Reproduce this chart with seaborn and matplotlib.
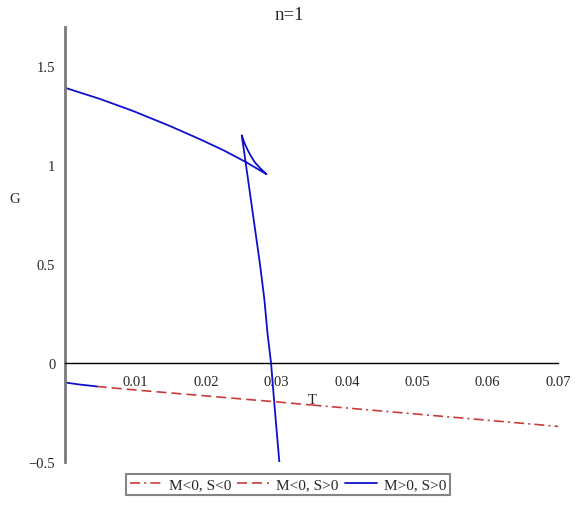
import numpy as np
import pandas as pd
import matplotlib
matplotlib.use("Agg")
import matplotlib.pyplot as plt
import seaborn as sns

# values
# blue branch M>0, S>0 (upper curve -> swallowtail -> steep lower curve)
t_pos = [0.0, 0.005, 0.0097, 0.015, 0.0192, 0.0225, 0.0258, 0.0286,
         0.0278, 0.02697, 0.0264, 0.02588, 0.02545, 0.02509,
         0.0259, 0.02674, 0.02768, 0.0283, 0.02875, 0.02925, 0.0298, 0.03043]
g_pos = [1.392, 1.335, 1.274, 1.197, 1.131, 1.076, 1.014, 0.955,
         0.982, 1.014, 1.046, 1.081, 1.115, 1.152,
         0.95, 0.737, 0.50, 0.323, 0.15, 0.0, -0.24, -0.5]

# short blue piece on the lower branch
t_pos_low = [0.0, 0.002, 0.0045]
g_pos_low = [-0.098, -0.108, -0.118]

# red dashed M<0, S>0
t_neg_pos = [0.0045, 0.01, 0.02, 0.03, 0.035]
g_neg_pos = [-0.118, -0.136, -0.166, -0.196, -0.212]

# red dash-dot M<0, S<0
t_neg_neg = [0.035, 0.04, 0.05, 0.06, 0.07]
g_neg_neg = [-0.212, -0.227, -0.258, -0.289, -0.320]

x_ticks = [0.01, 0.02, 0.03, 0.04, 0.05, 0.06, 0.07]
x_labels = ["0.01", "0.02", "0.03", "0.04", "0.05", "0.06", "0.07"]
y_ticks = [-0.5, 0, 0.5, 1, 1.5]
y_labels = ["\u22120.5", "0", "0.5", "1", "1.5"]

red = "#C83C3C"
blue = "#1010CC"

sns.set_style("white")
plt.rcParams["font.family"] = ["Liberation Serif", "DejaVu Serif"]
plt.rcParams["font.size"] = 10.5

fig = plt.figure(figsize=(5.78, 5.06), dpi=100)
ax = fig.add_axes([0.1125, 0.085, 0.853, 0.860])

dd = (0, (6, 2.5, 1.2, 2.5))
da = (0, (6, 3))

sns.lineplot(x=t_neg_neg, y=g_neg_neg, ax=ax, color=red, lw=1.2,
             linestyle=dd, sort=False, estimator=None, label="M<0, S<0")
sns.lineplot(x=t_neg_pos, y=g_neg_pos, ax=ax, color=red, lw=1.2,
             linestyle=da, sort=False, estimator=None, label="M<0, S>0")
sns.lineplot(x=t_pos, y=g_pos, ax=ax, color=blue, lw=1.3,
             sort=False, estimator=None, label="M>0, S>0")
sns.lineplot(x=t_pos_low, y=g_pos_low, ax=ax, color=blue, lw=1.3,
             sort=False, estimator=None)

ax.set_xlim(0, 0.07)
ax.set_ylim(-0.5, 1.7)

# Maple style axes: x axis through zero, grey y axis on the left
ax.spines["top"].set_visible(False)
ax.spines["right"].set_visible(False)
ax.spines["bottom"].set_position(("data", 0))
ax.spines["bottom"].set_color("black")
ax.spines["bottom"].set_linewidth(1.0)
ax.spines["left"].set_color("#7a7a7a")
ax.spines["left"].set_linewidth(2.0)

ax.set_xticks(x_ticks)
ax.set_xticklabels(x_labels)
ax.set_xticks(np.arange(0.005, 0.07, 0.01), minor=True)
ax.set_yticks(y_ticks)
ax.set_yticklabels(y_labels)
ax.set_yticks(np.arange(-0.4, 1.7, 0.1), minor=True)
ax.tick_params(axis="x", which="major", direction="in", length=4, color="#999999", pad=8.5)
ax.tick_params(axis="x", which="minor", direction="in", length=3, color="#bbbbbb")
ax.tick_params(axis="y", which="major", direction="out", length=4, color="#7a7a7a", pad=3)
ax.tick_params(axis="y", which="minor", direction="in", length=3, color="#bbbbbb")

ax.set_xlabel("T")
ax.xaxis.set_label_coords(0.501, 0.159)
ax.set_ylabel("G", rotation=0)
ax.yaxis.set_label_coords(-0.103, 0.591)

fig.suptitle("n=1", x=0.5, y=0.969, va="center", fontsize=13.5)

handles, labels = ax.get_legend_handles_labels()
ax.get_legend().remove()
leg = fig.legend(handles, labels, loc="center", bbox_to_anchor=(0.498, 0.041),
                 ncol=3, frameon=True, fancybox=False, handlelength=2.1,
                 handletextpad=0.45, columnspacing=0.4, borderpad=0.25,
                 borderaxespad=0.0, fontsize=11)
leg.get_frame().set_edgecolor("#666666")
leg.get_frame().set_linewidth(1.5)

fig.savefig("out.png", dpi=100)
